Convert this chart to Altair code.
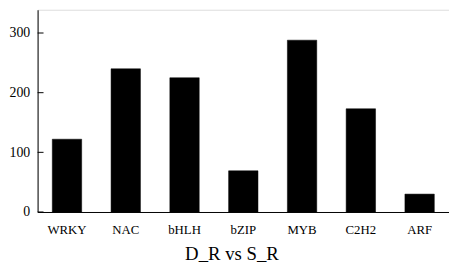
import altair as alt
import pandas as pd

categories = ["WRKY", "NAC", "bHLH", "bZIP", "MYB", "C2H2", "ARF"]
counts = [122, 240, 225, 69, 288, 173, 30]
y_ticks = [0, 100, 200, 300]
title_text = "D_R vs S_R"

bars_df = pd.DataFrame({"family": categories, "count": counts})
ticks_df = pd.DataFrame({"v": y_ticks})

FONT = "Liberation Serif"

y_scale = alt.Scale(domain=[0, 339], nice=False, zero=True)

bars = alt.Chart(bars_df).mark_bar(color="black", stroke="black", strokeWidth=0.5).encode(
    x=alt.X(
        "family:N",
        sort=categories,
        scale=alt.Scale(paddingInner=0.5, paddingOuter=0.25),
        axis=alt.Axis(
            title=title_text,
            titleFont=FONT,
            titleFontSize=19,
            titleFontWeight="normal",
            titleColor="black",
            titleX=196.5,
            titleY=48,
            titleAlign="center",
            titleBaseline="alphabetic",
            labelFont=FONT,
            labelFontSize=13,
            labelColor="black",
            labelAngle=0,
            labelPadding=12,
            ticks=False,
            tickSize=0,
            domainColor="black",
            domainWidth=1,
        ),
    ),
    y=alt.Y(
        "count:Q",
        scale=y_scale,
        axis=alt.Axis(
            title=None,
            values=y_ticks,
            labelFont=FONT,
            labelFontSize=14,
            labelColor="black",
            labelPadding=8,
            ticks=False,
            tickSize=0,
            grid=False,
            domainColor="black",
            domainWidth=1,
        ),
    ),
)

tick_marks = alt.Chart(ticks_df).mark_rule(color="black", strokeWidth=1).encode(
    y=alt.Y("v:Q", scale=y_scale),
    x=alt.value(0),
    x2=alt.value(6),
)

chart = (
    alt.layer(bars, tick_marks)
    .properties(
        width=417,
        height=205,
        autosize=alt.AutoSizeParams(type="none"),
        padding={"left": 30, "top": 0, "right": 0, "bottom": 55},
    )
    .configure_view(stroke=None)
    .configure(background="white")
)

chart.save("out.html", embed_options={"renderer": "svg", "actions": False})
